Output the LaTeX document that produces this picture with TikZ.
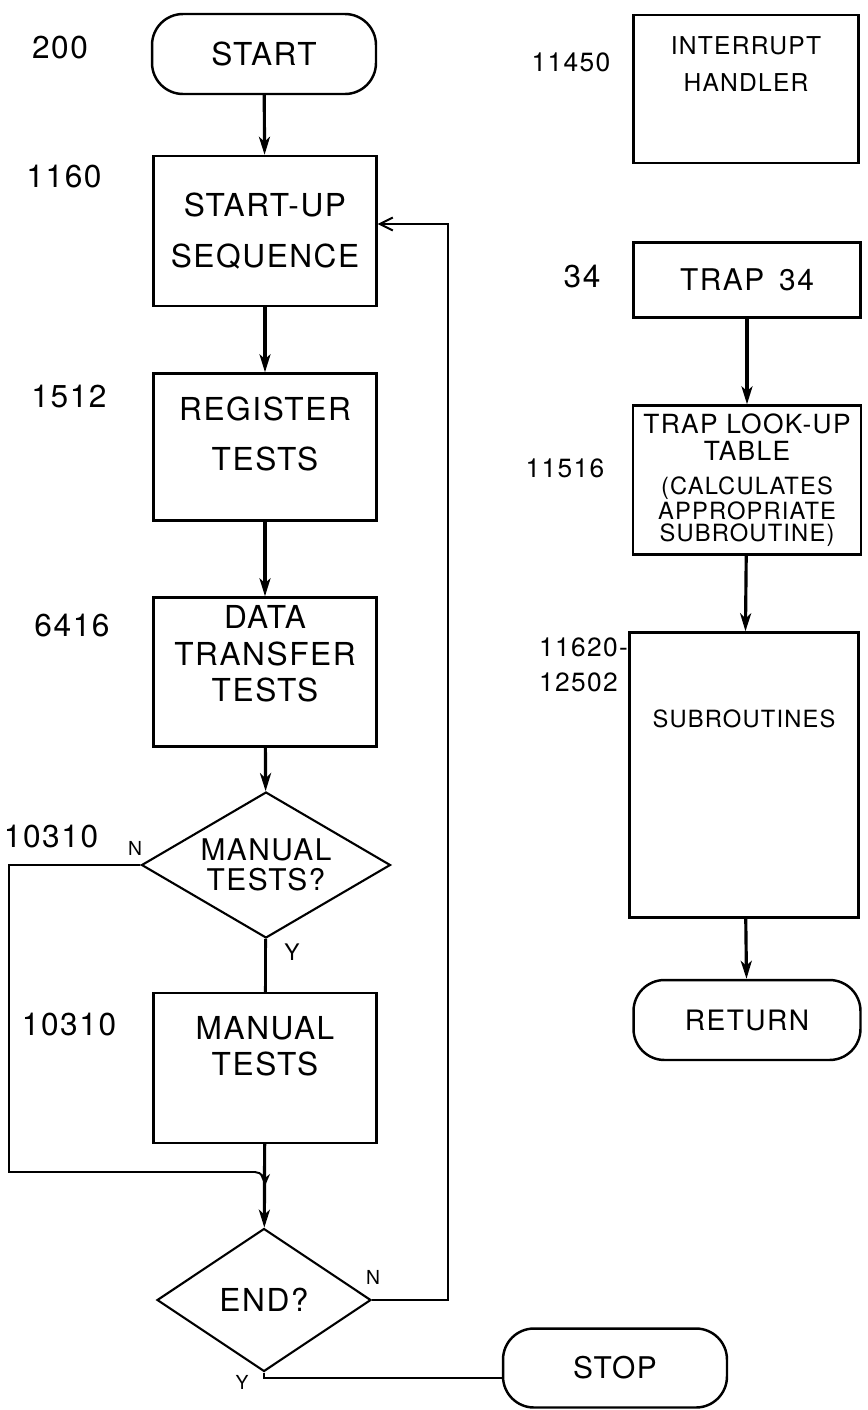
\documentclass[tikz,border=0pt]{standalone}
\usepackage{fontspec}
\setmainfont{TeX Gyre Heros}[LetterSpace=5]
\usetikzlibrary{shapes.geometric, arrows.meta, calc}

\begin{document}
\begin{tikzpicture}[
    x=0.02cm, y=-0.02cm,
    every node/.style={font=\fontsize{18}{21}\selectfont},
    term/.style={draw, line width=1.4pt, rounded corners=0.62cm, minimum width=4.48cm,
                 minimum height=1.6cm, align=center},
    proc/.style={draw, line width=1.4pt, minimum width=4.46cm, align=center},
    dec/.style={draw, diamond, line width=1.2pt, inner sep=0pt, align=center},
    num/.style={font=\fontsize{18}{20}\selectfont},
    yn/.style={font=\fontsize{11}{12}\selectfont},
    arr/.style={-{Stealth[length=3.6mm, width=2.2mm, inset=1mm]}, line width=1.8pt},
    wire/.style={line width=1.1pt}
]
    \path[use as bounding box, fill=white] (0,0) rectangle (867,1410);

    % Main program column
    \node[term] (start) at (264,54) {START};
    \node[proc, minimum height=3cm, font=\fontsize{18}{29.5}\selectfont] (su) at (265,231) {START-UP\\SEQUENCE};
    \node[proc, minimum height=2.94cm, font=\fontsize{18}{28.4}\selectfont] (reg) at (265,447) {REGISTER\\TESTS\\[-13pt]\mbox{}};
    \node[proc, minimum height=2.98cm] (dtt) at (265,672) {DATA\\TRANSFER\\TESTS\\\mbox{}};
    \node[dec, shape aspect=1.7, minimum width=4.98cm, minimum height=2.92cm,
          font=\fontsize{17}{17}\selectfont] (mt) at (266,865) {MANUAL\\TESTS?};
    \node[proc, minimum height=3cm, font=\fontsize{18}{20.4}\selectfont] (man) at (265,1068) {MANUAL\\TESTS\\[5pt]\mbox{}};
    \node[dec, shape aspect=1.5, minimum width=4.28cm, minimum height=2.86cm] (endq) at (264,1300) {END?};
    \node[term, minimum height=1.58cm, font=\fontsize{17}{20}\selectfont] (stop) at (615,1368) {STOP};

    % Interrupt side
    \node[proc, minimum width=4.5cm, minimum height=2.96cm, font=\fontsize{14}{21.5}\selectfont] (ih) at (746,89) {INTERRUPT\\HANDLER\\[7pt]\mbox{}};
    \node[proc, minimum width=4.54cm, minimum height=1.5cm, font=\fontsize{17}{20}\selectfont] (trap) at (747,280) {TRAP\enspace 34};
    \node[proc, minimum width=4.56cm, minimum height=2.98cm, inner sep=1pt, font=\fontsize{13.5}{12.5}\selectfont] (tlu) at (747,480)
        {{\fontsize{15}{15}\selectfont TRAP LOOK-UP}\\[3pt]{\fontsize{15}{15}\selectfont TABLE}\\[7pt](CALCULATES\\APPROPRIATE\\SUBROUTINE)};
    \node[proc, minimum width=4.58cm, minimum height=5.7cm, font=\fontsize{13.5}{15}\selectfont] (sub) at (744,775) {SUBROUTINES\\[49pt]\mbox{}};
    \node[term, minimum width=4.54cm, font=\fontsize{16}{19}\selectfont] (ret) at (747,1020) {RETURN};

    % Line numbers
    \node[num] (n200) at (60,48) {200};
    \node[num] (n1160) at (64,177) {1160};
    \node[num] (n1512) at (69,397) {1512};
    \node[num] (n6416) at (72,626) {6416};
    \node[num] (n10310a) at (51,837) {10310};
    \node[num] (n10310b) at (69,1025) {10310};
    \node[num, font=\fontsize{15}{18}\selectfont] (n11450) at (571,62) {11450};
    \node[num] (n34) at (582,277) {34};
    \node[num, font=\fontsize{15}{18}\selectfont] (n11516) at (565,468) {11516};
    \node[num, font=\fontsize{15}{20}\selectfont, align=left, anchor=west] (n11620) at (533,665) {11620-\\12502};

    % Branch letters
    \node[yn] (mtn) at (135,848) {N};
    \node[yn, font=\fontsize{13}{13}\selectfont] (mty) at (292,952) {Y};
    \node[yn] (endn) at (373,1277) {N};
    \node[yn] (endy) at (242,1382) {Y};

    \coordinate (lft) at (9,1172);
    \coordinate (mj) at (265,1186);
    \coordinate (rt) at (448,224);

    \draw[arr] (start) -- (su);
    \draw[arr] (su) -- (reg);
    \draw[arr] (reg) -- (dtt);
    \draw[arr] (dtt) -- (mt);
    \draw[wire, line width=1.6pt] (mt) -- (man);
    \draw[arr] (man) -- (endq);
    \draw[wire, -{Stealth[length=2.4mm, width=2mm]}] (mt.west) -| (lft) -- ($(lft -| mj)+(-10,0)$) to[out=0, in=90] (mj);
    \draw[wire, -{Straight Barb[length=2.6mm, width=2.6mm]}] (endq.east) -| (rt) -- (rt -| su.east);
    \draw[wire] (endq.south) |- ([yshift=-0.2cm]stop.west);

    \draw[arr] (trap) -- (tlu);
    \draw[arr] (tlu) -- (sub);
    \draw[arr] (sub) -- (ret);
\end{tikzpicture}
\end{document}
